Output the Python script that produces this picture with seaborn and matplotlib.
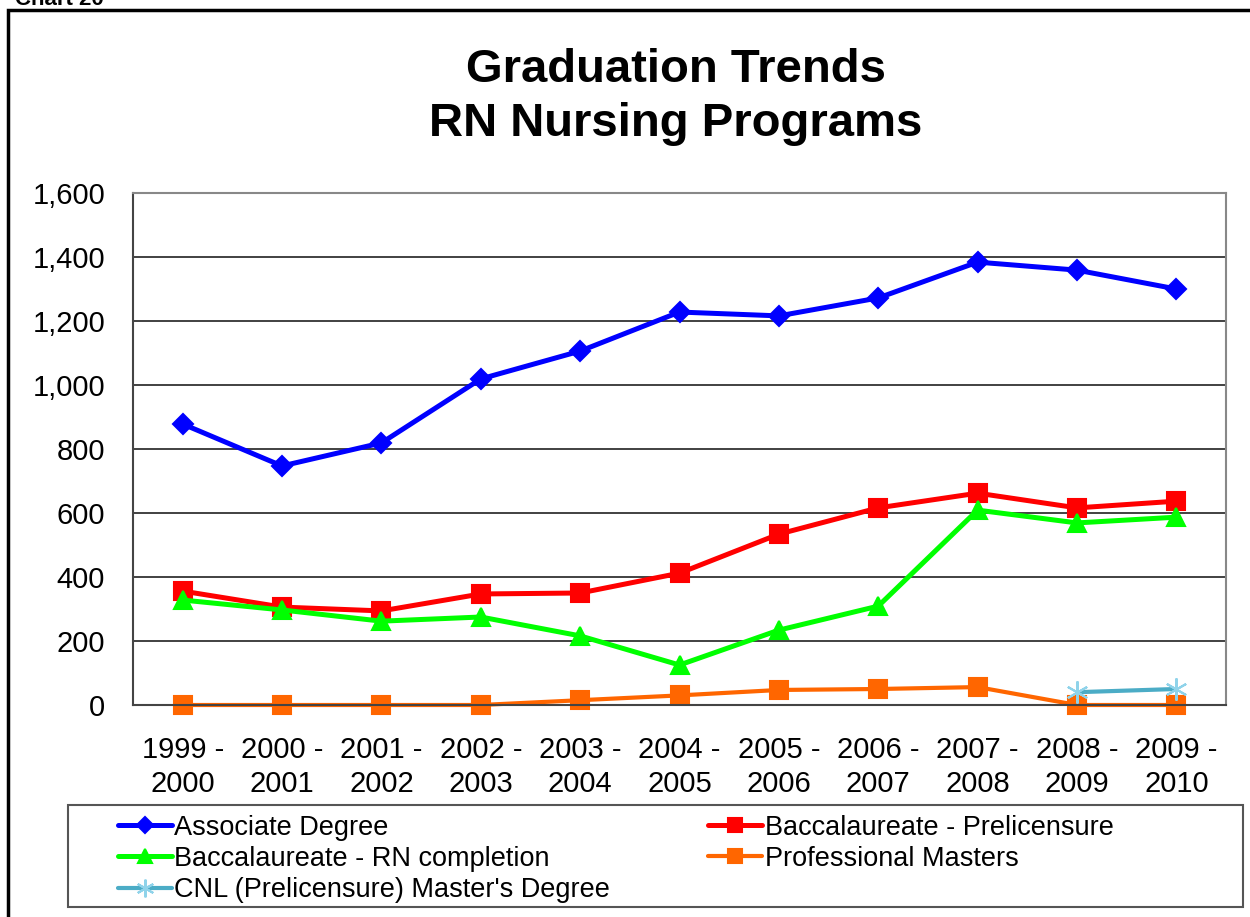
import numpy as np
import pandas as pd
import matplotlib
matplotlib.use("Agg")
import matplotlib.pyplot as plt
import seaborn as sns
from matplotlib.patches import Rectangle
from matplotlib.ticker import StrMethodFormatter

# data
years = ["1999 -\n2000", "2000 -\n2001", "2001 -\n2002", "2002 -\n2003",
         "2003 -\n2004", "2004 -\n2005", "2005 -\n2006", "2006 -\n2007",
         "2007 -\n2008", "2008 -\n2009", "2009 -\n2010"]
associate = [878, 747, 819, 1019, 1106, 1228, 1216, 1272, 1384, 1359, 1300]
bacc_prelicensure = [356, 306, 294, 347, 350, 412, 534, 616, 662, 616, 637]
bacc_rn_completion = [328, 297, 262, 275, 216, 125, 234, 309, 609, 569, 587]
professional_masters = [0, 0, 0, 0, 15, 30, 47, 50, 56, 0, 0]
cnl_masters = [np.nan] * 9 + [40, 50]

series_names = ["Associate Degree", "Baccalaureate - Prelicensure",
                "Baccalaureate - RN completion", "Professional Masters",
                "CNL (Prelicensure) Master's Degree"]

sns.set_style("white")
plt.rcParams['font.family'] = ['Liberation Sans', 'DejaVu Sans']
plt.rcParams['text.color'] = 'black'
plt.rcParams['xtick.color'] = 'black'
plt.rcParams['ytick.color'] = 'black'

df = pd.DataFrame({
    "pos": np.arange(len(years)),
    series_names[0]: associate,
    series_names[1]: bacc_prelicensure,
    series_names[2]: bacc_rn_completion,
    series_names[3]: professional_masters,
    series_names[4]: cnl_masters,
})

styles = {
    series_names[0]: dict(color="#0000FF", marker="D", markersize=10, lw=3.6),
    series_names[1]: dict(color="#FF0000", marker="s", markersize=13, lw=3.6),
    series_names[2]: dict(color="#00FF00", marker="^", markersize=13, lw=3.6),
    series_names[3]: dict(color="#FF6600", marker="s", markersize=13, lw=3.0),
    series_names[4]: dict(color="#4BACC6", marker=(6, 2, 0), markersize=16, lw=3.0),
}

fig = plt.figure(figsize=(12.5, 9.17), dpi=100)
ax = fig.add_axes([133/1250, (917-705)/917, (1226-133)/1250, (705-193)/917])

for name in series_names:
    st = styles[name]
    mec = "#8FD3EA" if name == series_names[4] else st["color"]
    sns.lineplot(data=df, x="pos", y=name, ax=ax, color=st["color"],
                 marker=st["marker"], markersize=st["markersize"],
                 markeredgecolor=mec, markeredgewidth=1.5,
                 linewidth=st["lw"], label=name, clip_on=False)

if ax.get_legend() is not None:
    ax.get_legend().remove()

ax.set_ylim(0, 1600)
ax.set_yticks(np.arange(0, 1601, 200))
ax.yaxis.set_major_formatter(StrMethodFormatter("{x:,.0f}"))
ax.set_xlim(-0.5, len(years) - 0.5)
ax.set_xticks(np.arange(-0.5, len(years), 1))
ax.set_xticklabels([])
ax.set_xticks(np.arange(len(years)), minor=True)
ax.set_xticklabels(years, minor=True, fontsize=21, linespacing=1.3)
ax.tick_params(axis="x", which="major", length=8, width=1.3, color="#333333", direction="out")
ax.tick_params(axis="x", which="minor", length=0, pad=22)
ax.tick_params(axis="y", length=8, width=1.3, color="#333333", direction="out",
               labelsize=21, pad=12)
ax.set_xlabel("")
ax.set_ylabel("")

ax.yaxis.grid(True, color="#333333", lw=1.3)
ax.set_axisbelow(True)
for side in ["left", "bottom"]:
    ax.spines[side].set_color("#444444")
    ax.spines[side].set_linewidth(1.5)
for side in ["top", "right"]:
    ax.spines[side].set_color("#888888")
    ax.spines[side].set_linewidth(1.5)

fig.text(676/1250, 1 - 97/917, "Graduation Trends\nRN Nursing Programs",
         ha="center", va="center", fontsize=34, fontweight="bold", linespacing=1.3)

fig.text(15/1250, 1 - 5/917, "Chart 20", ha="left", va="baseline",
         fontsize=16, fontweight="bold")

# outer frame (right and bottom run off the page)
fig.add_artist(Rectangle((8/1250, -0.1), 2, 1 - 9.5/917 + 0.1,
                         transform=fig.transFigure, fill=False,
                         ec="black", lw=2.5))

# legend box
fig.add_artist(Rectangle((68/1250, (917-907)/917), (1243-68)/1250, 102/917,
                         transform=fig.transFigure, fill=False,
                         ec="#555555", lw=1.5))

handles, labels = ax.get_legend_handles_labels()
order = [0, 2, 4, 1, 3]
fig.legend([handles[i] for i in order], [labels[i] for i in order],
           ncol=2, loc="upper left", bbox_to_anchor=(104/1250, 1 - 801/917),
           frameon=False, fontsize=19.5, borderpad=0, handlelength=2.0,
           handletextpad=0.1, columnspacing=3.6, labelspacing=0.2,
           markerscale=0.8)

fig.savefig("out.png", dpi=100)
